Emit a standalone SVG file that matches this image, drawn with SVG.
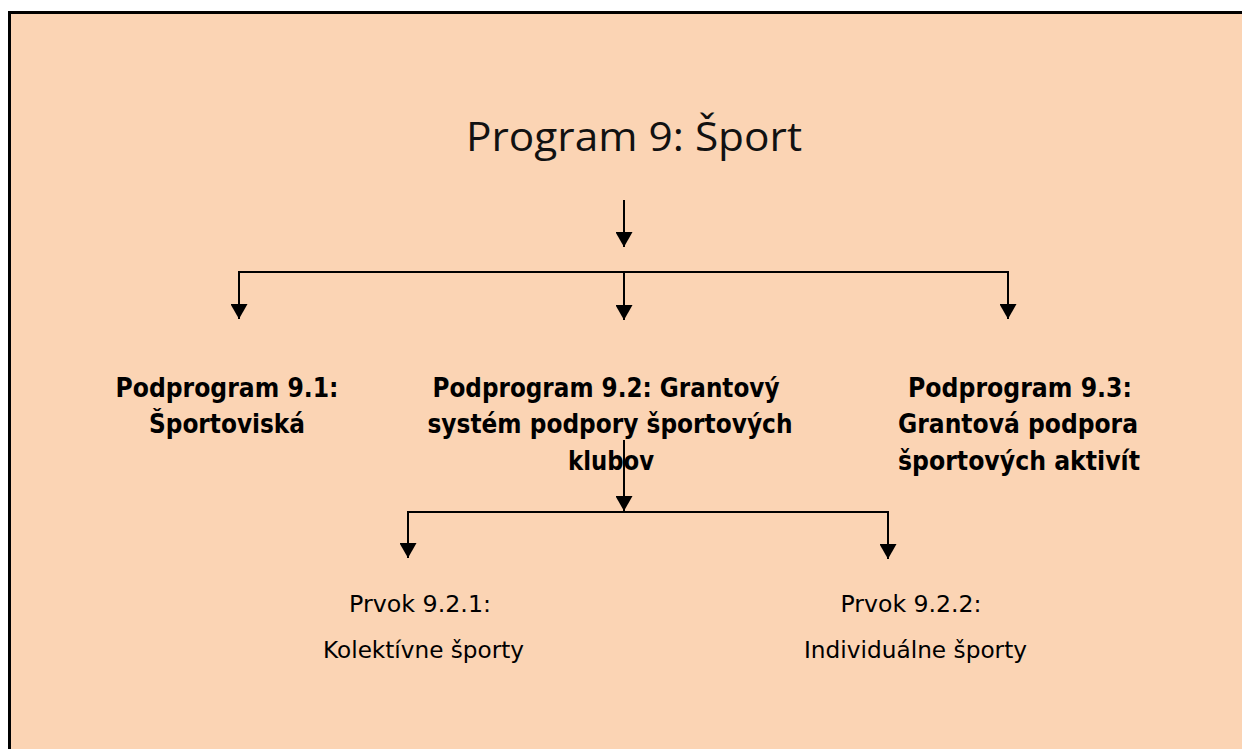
<svg xmlns="http://www.w3.org/2000/svg" width="1242" height="749" viewBox="0 0 1242 749">
  <defs>
    <marker id="arrow" markerUnits="userSpaceOnUse" markerWidth="16" markerHeight="17" refX="15" refY="8.5" orient="auto">
      <path d="M0,0 L15,8.5 L0,17 Z" fill="#000"/>
    </marker>
    <style>
      .conn { fill: none; stroke: #000; stroke-width: 2; }
      .arr { marker-end: url(#arrow); }
      .title { font-family: "Open Sans", "Liberation Sans", sans-serif; font-weight: 400; font-size: 40px; fill: #111; }
      .sub { font-family: "DejaVu Sans", "Liberation Sans", sans-serif; font-weight: bold; font-size: 26px; fill: #000; text-anchor: middle; }
      .elem { font-family: "DejaVu Sans", "Liberation Sans", sans-serif; font-size: 23px; fill: #000; text-anchor: middle; }
    </style>
  </defs>

  <!-- page background, framed on the top and left edges only -->
  <rect x="9.5" y="12.5" width="1233" height="737" fill="#FBD4B4"/>
  <path d="M9.5,749 V12.5 H1242" fill="none" stroke="#000" stroke-width="3"/>

  <g id="program">
    <text class="title" x="466" y="151" textLength="336" lengthAdjust="spacingAndGlyphs">Program 9: Šport</text>
  </g>

  <g id="connectors">
    <line class="conn arr" x1="624" y1="200" x2="624" y2="247"/>
    <path class="conn" d="M239,272 H1008"/>
    <line class="conn arr" x1="239" y1="271" x2="239" y2="319"/>
    <line class="conn arr" x1="624" y1="272" x2="624" y2="320"/>
    <line class="conn arr" x1="1008" y1="271" x2="1008" y2="319"/>
    <line class="conn arr" x1="624" y1="440" x2="624" y2="511"/>
    <path class="conn" d="M408,512 H888"/>
    <line class="conn arr" x1="408" y1="511" x2="408" y2="558"/>
    <line class="conn arr" x1="888" y1="511" x2="888" y2="559"/>
  </g>

  <g id="podprogram-9-1">
    <text class="sub" x="227" y="397" textLength="223" lengthAdjust="spacingAndGlyphs">Podprogram 9.1:</text>
    <text class="sub" x="227" y="433" textLength="156" lengthAdjust="spacingAndGlyphs">Športoviská</text>
  </g>

  <g id="podprogram-9-2">
    <text class="sub" x="606" y="397" textLength="347" lengthAdjust="spacingAndGlyphs">Podprogram 9.2: Grantový</text>
    <text class="sub" x="610" y="433" textLength="365" lengthAdjust="spacingAndGlyphs">systém podpory športových</text>
    <text class="sub" x="611" y="470" textLength="86" lengthAdjust="spacingAndGlyphs">klubov</text>
  </g>

  <g id="podprogram-9-3">
    <text class="sub" x="1020" y="397" textLength="224" lengthAdjust="spacingAndGlyphs">Podprogram 9.3:</text>
    <text class="sub" x="1018" y="433" textLength="240" lengthAdjust="spacingAndGlyphs">Grantová podpora</text>
    <text class="sub" x="1019" y="470" textLength="242" lengthAdjust="spacingAndGlyphs">športových aktivít</text>
  </g>

  <g id="prvok-9-2-1">
    <text class="elem" x="420" y="612" textLength="142" lengthAdjust="spacingAndGlyphs">Prvok 9.2.1:</text>
    <text class="elem" x="423.5" y="658" textLength="201" lengthAdjust="spacingAndGlyphs">Kolektívne športy</text>
  </g>

  <g id="prvok-9-2-2">
    <text class="elem" x="911" y="612" textLength="141" lengthAdjust="spacingAndGlyphs">Prvok 9.2.2:</text>
    <text class="elem" x="915.5" y="658" textLength="223" lengthAdjust="spacingAndGlyphs">Individuálne športy</text>
  </g>
</svg>
